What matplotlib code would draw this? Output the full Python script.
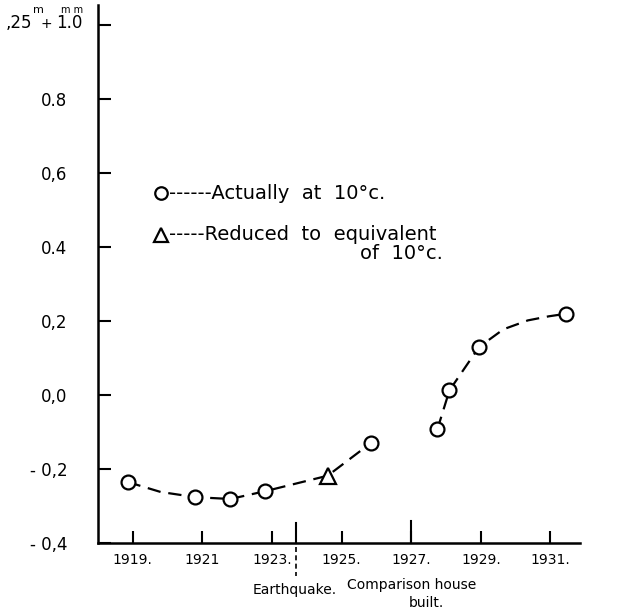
import matplotlib
matplotlib.use("Agg")
from matplotlib import pyplot as plt

circle_years = [1918.85, 1920.8, 1921.8, 1922.8, 1925.85]
circle_vals = [-0.235, -0.276, -0.281, -0.260, -0.129]
tri_years = [1924.6]
tri_vals = [-0.218]
late_years = [1927.75, 1928.1, 1928.95, 1931.45]
late_vals = [-0.093, 0.013, 0.130, 0.220]

# drawn trend lines
early_line_years = [1918.85, 1919.8, 1920.8, 1921.8, 1922.8, 1924.6, 1925.85]
early_line_vals = [-0.235, -0.262, -0.276, -0.281, -0.260, -0.218, -0.129]
late_line_years = [1927.75, 1928.1, 1928.95, 1929.65, 1930.35, 1930.95, 1931.45]
late_line_vals = [-0.093, 0.013, 0.130, 0.178, 0.202, 0.213, 0.220]

x_ticks = [1919, 1921, 1923, 1925, 1927, 1929, 1931]
x_labels = ['1919.', '1921', '1923.', '1925.', '1927.', '1929.', '1931.']
y_ticks = [0.8, 0.6, 0.4, 0.2, 0.0, -0.2, -0.4]
y_labels = ['0.8', '0,6', '0.4', '0,2', '0,0', '- 0,2', '- 0,4']
earthquake_year = 1923.7
house_year = 1927.0

plt.rcParams['font.family'] = ['DejaVu Sans']

fig = plt.figure(figsize=(6.3, 6.16), dpi=100)
ax = fig.add_axes([98 / 630, 73 / 616, 482 / 630, 538 / 616])
ax.set_xlim(1918.0, 1931.85)
ax.set_ylim(-0.4, 1.055)

dash = dict(color='black', lw=1.6, dashes=(6, 3.5))
ax.plot(early_line_years, early_line_vals, **dash, zorder=2)
ax.plot(late_line_years, late_line_vals, **dash, zorder=2)

mk = dict(ls='none', mfc='white', mec='black', mew=1.6, zorder=3)
ax.plot(circle_years, circle_vals, marker='o', ms=10, **mk)
ax.plot(late_years, late_vals, marker='o', ms=10, **mk)
ax.plot(tri_years, tri_vals, marker='^', ms=11, **mk)

# Axes look
for s in ['top', 'right']:
    ax.spines[s].set_visible(False)
for s in ['left', 'bottom']:
    ax.spines[s].set_linewidth(1.8)
ax.set_xticks(x_ticks)
ax.set_xticklabels(x_labels, fontsize=10)
ax.set_yticks(y_ticks + [1.0])
ax.set_yticklabels(y_labels + [''], fontsize=12)
ax.tick_params(axis='both', direction='in', length=9, width=1.5)
ax.tick_params(axis='x', pad=7)
ax.tick_params(axis='y', pad=22)

# taller markers for earthquake and house
ax.plot([earthquake_year, earthquake_year], [-0.4, -0.345], color='black', lw=1.5,
        clip_on=False)
ax.plot([earthquake_year, earthquake_year], [-0.41, -0.49], color='black', lw=1.2,
        dashes=(3, 2), clip_on=False)
ax.plot([house_year, house_year], [-0.4, -0.34], color='black', lw=1.5, clip_on=False)

ax.text(earthquake_year - 0.05, -0.508, 'Earthquake.', ha='center', va='top', fontsize=10)
ax.text(house_year, -0.496, 'Comparison house', ha='center', va='top', fontsize=10)
ax.text(house_year + 0.45, -0.543, 'built.', ha='center', va='top', fontsize=10)

# Top-left reference label
fig.text(6 / 630, 1 - 28 / 616, ',25', fontsize=12, va='baseline')
fig.text(33 / 630, 1 - 13 / 616, 'm', fontsize=8, va='baseline')
fig.text(41 / 630, 1 - 28 / 616, '+', fontsize=10, va='baseline')
fig.text(56 / 630, 1 - 28 / 616, '1.0', fontsize=12, va='baseline')
fig.text(61 / 630, 1 - 13 / 616, 'm m', fontsize=7, va='baseline')

# Key
ax.plot([1919.8], [0.546], marker='o', ms=9, **mk)
ax.plot([1919.8], [0.433], marker='^', ms=10, **mk)
ax.text(1920.05, 0.546, '------Actually  at  10°c.', fontsize=14, va='center')
ax.text(1920.05, 0.433, '-----Reduced  to  equivalent', fontsize=14, va='center')
ax.text(1927.9, 0.384, 'of  10°c.', fontsize=14, va='center', ha='right')

fig.savefig('out.png', dpi=100)
